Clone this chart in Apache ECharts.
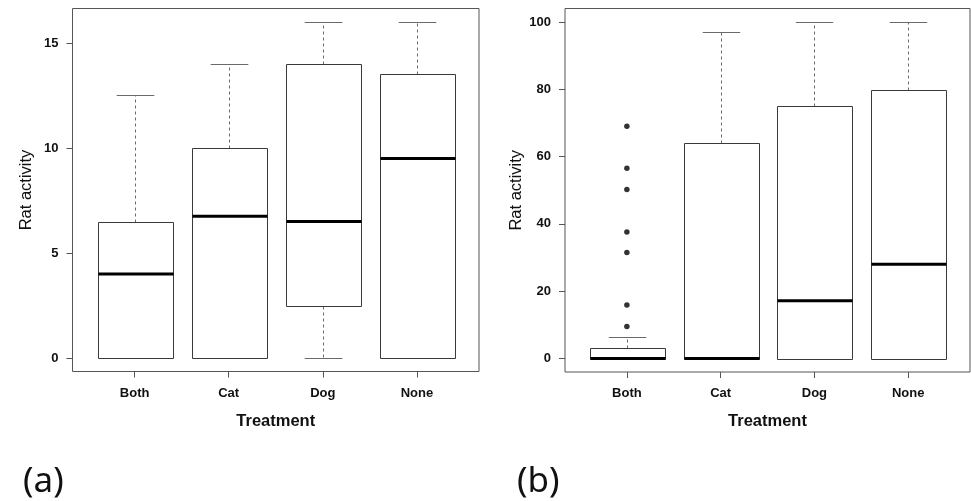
<!DOCTYPE html>
<html>
<head>
<meta charset="utf-8">
<script src="https://cdn.jsdelivr.net/npm/echarts@6/dist/echarts.min.js"></script>
<style>
html,body{margin:0;padding:0;background:#fff;}
#c{width:971px;height:501px;}
</style>
</head>
<body>
<div id="c"></div>
<script>
// ---- data ----
const categories = ['Both', 'Cat', 'Dog', 'None'];
// panel (a)
const aLow  = [0, 0, 0, 0];
const aQ1   = [0, 0, 2.5, 0];
const aMed  = [4, 6.75, 6.5, 9.5];
const aQ3   = [6.5, 10, 14, 13.5];
const aHigh = [12.5, 14, 16, 16];
// panel (b)
const bLow  = [0, 0, 0, 0];
const bQ1   = [0, 0, 0, 0];
const bMed  = [0, 0, 17.2, 28];
const bQ3   = [3.2, 64, 75, 79.7];
const bHigh = [6.3, 97, 100, 100];
const bOutliersBoth = [69, 56.5, 50.2, 37.6, 31.5, 15.9, 9.5];
const aTicks = [0, 5, 10, 15];
const bTicks = [0, 20, 40, 60, 80, 100];
const xTicks = [1, 2, 3, 4];

// ---- build ----
function boxData(low, q1, med, q3, high) {
  return categories.map((c, i) => [i + 1, low[i], q1[i], med[i], q3[i], high[i]]);
}
const LINE = '#3a3a3a';
const WHISK = '#6a6a6a';
function renderBox(params, api) {
  const x = api.value(0);
  const low = api.value(1), q1 = api.value(2), med = api.value(3), q3 = api.value(4), high = api.value(5);
  const halfW = api.size([0.8, 0])[0] / 2;
  const capHalf = api.size([0.4, 0])[0] / 2;
  const pLow = api.coord([x, low]), pQ1 = api.coord([x, q1]), pMed = api.coord([x, med]),
        pQ3 = api.coord([x, q3]), pHigh = api.coord([x, high]);
  const cx = Math.round(pMed[0]) + 0.5;
  const r = v => Math.round(v) + 0.5;
  const children = [];
  if (high > q3) {
    children.push({type: 'line', shape: {x1: cx, y1: r(pQ3[1]), x2: cx, y2: r(pHigh[1])},
      style: {stroke: WHISK, lineWidth: 1, lineDash: [3, 3]}});
  }
  children.push({type: 'line', shape: {x1: cx - capHalf, y1: r(pHigh[1]), x2: cx + capHalf, y2: r(pHigh[1])},
    style: {stroke: WHISK, lineWidth: 1}});
  if (low < q1) {
    children.push({type: 'line', shape: {x1: cx, y1: r(pQ1[1]), x2: cx, y2: r(pLow[1])},
      style: {stroke: WHISK, lineWidth: 1, lineDash: [3, 3]}});
  }
  children.push({type: 'line', shape: {x1: cx - capHalf, y1: r(pLow[1]), x2: cx + capHalf, y2: r(pLow[1])},
    style: {stroke: WHISK, lineWidth: 1}});
  const top = r(pQ3[1]), bot = r(pQ1[1]);
  children.push({type: 'rect', shape: {x: r(cx - halfW), y: top, width: Math.round(halfW * 2), height: bot - top},
    style: {fill: '#fff', stroke: LINE, lineWidth: 1}});
  children.push({type: 'line', shape: {x1: r(cx - halfW), y1: pMed[1], x2: r(cx - halfW) + Math.round(halfW * 2), y2: pMed[1]},
    style: {stroke: '#000', lineWidth: 3}});
  return {type: 'group', children: children};
}

const tickLabel = {fontFamily: 'Liberation Sans', fontWeight: 'bold', fontSize: 13, color: '#111'};
function xAxisCfg(gridIndex) {
  return {
    type: 'value', gridIndex: gridIndex, min: 0.34, max: 4.66,
    name: 'Treatment', nameLocation: 'middle', nameGap: 41,
    nameTextStyle: {fontFamily: 'Liberation Sans', fontWeight: 'bold', fontSize: 16.5, color: '#111'},
    axisLine: {show: false, onZero: false},
    axisTick: {show: true, length: 6, customValues: xTicks, lineStyle: {color: '#555'}},
    axisLabel: Object.assign({margin: 15, customValues: xTicks, formatter: v => categories[Math.round(v) - 1] || ''}, tickLabel),
    splitLine: {show: false}
  };
}
function yAxisCfg(gridIndex, min, max, ticks) {
  return {
    type: 'value', gridIndex: gridIndex, min: min, max: max,
    name: 'Rat activity', nameLocation: 'middle', nameGap: 38,
    nameTextStyle: {fontFamily: 'Liberation Sans', fontSize: 16.5, color: '#111'},
    axisLine: {show: false, onZero: false},
    axisTick: {show: true, length: 6, customValues: ticks, lineStyle: {color: '#555'}},
    axisLabel: Object.assign({margin: 14, customValues: ticks}, tickLabel),
    splitLine: {show: false}
  };
}

const chart = echarts.init(document.getElementById('c'), null, {renderer: 'canvas'});
chart.setOption({
  backgroundColor: '#fff',
  animation: false,
  grid: [
    {left: 72.5, right: 492, top: 8.5, bottom: 129.5, show: true, borderColor: '#555', borderWidth: 1, backgroundColor: 'transparent'},
    {left: 565, right: 1, top: 8.5, bottom: 129, show: true, borderColor: '#555', borderWidth: 1, backgroundColor: 'transparent'}
  ],
  xAxis: [xAxisCfg(0), xAxisCfg(1)],
  yAxis: [yAxisCfg(0, -0.64, 16.64, aTicks), yAxisCfg(1, -4, 104, bTicks)],
  series: [
    {type: 'custom', xAxisIndex: 0, yAxisIndex: 0, renderItem: renderBox,
     encode: {x: 0, y: [1, 2, 3, 4, 5]}, data: boxData(aLow, aQ1, aMed, aQ3, aHigh)},
    {type: 'custom', xAxisIndex: 1, yAxisIndex: 1, renderItem: renderBox,
     encode: {x: 0, y: [1, 2, 3, 4, 5]}, data: boxData(bLow, bQ1, bMed, bQ3, bHigh)},
    {type: 'scatter', xAxisIndex: 1, yAxisIndex: 1, symbol: 'circle', symbolSize: 5.5,
     itemStyle: {color: '#000'}, data: bOutliersBoth.map(v => [1, v])}
  ],
  graphic: [
    {type: 'text', left: 23, top: 465, style: {text: '(a)', font: '35px "Noto Sans", "Open Sans", sans-serif', fill: '#111'}},
    {type: 'text', left: 517, top: 465, style: {text: '(b)', font: '35px "Noto Sans", "Open Sans", sans-serif', fill: '#111'}}
  ]
});
</script>
</body>
</html>
